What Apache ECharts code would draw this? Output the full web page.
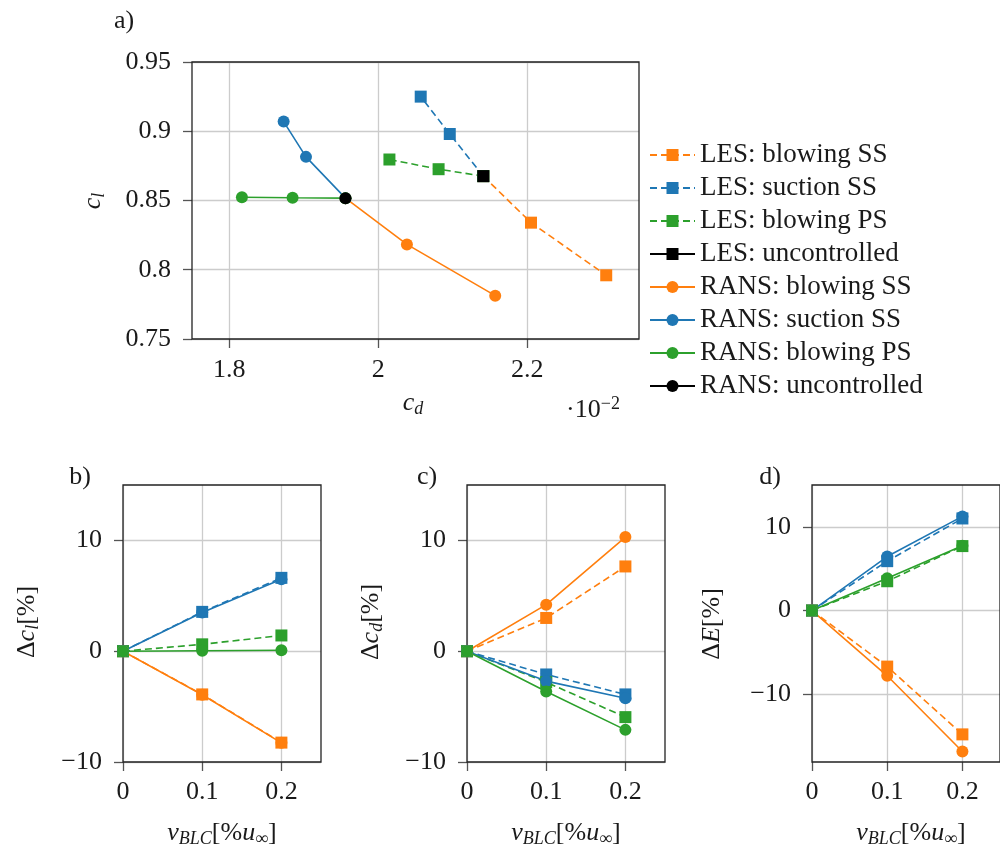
<!DOCTYPE html>
<html>
<head>
<meta charset="utf-8">
<script src="https://cdn.jsdelivr.net/npm/echarts@6/dist/echarts.min.js"></script>
<style>
  html, body { margin: 0; padding: 0; background: #ffffff; }
  #chart { width: 1000px; height: 845px; }
</style>
</head>
<body>
<div id="chart"></div>
<script>
// ---- Polar data: c_d (x 10^-2) and c_l, points ordered uncontrolled, v=0.1, v=0.2 ----
const lesBlowSS_cd  = [2.141, 2.205, 2.306];
const lesBlowSS_cl  = [0.8676, 0.834, 0.796];
const lesSuctSS_cd  = [2.141, 2.096, 2.057];
const lesSuctSS_cl  = [0.8676, 0.898, 0.925];
const lesBlowPS_cd  = [2.141, 2.081, 2.015];
const lesBlowPS_cl  = [0.8676, 0.8726, 0.8796];
const lesUnc_cd     = [2.141];
const lesUnc_cl     = [0.8676];
const ransBlowSS_cd = [1.956, 2.0385, 2.157];
const ransBlowSS_cl = [0.8517, 0.8183, 0.7813];
const ransSuctSS_cd = [1.956, 1.903, 1.873];
const ransSuctSS_cl = [0.8517, 0.8815, 0.907];
const ransBlowPS_cd = [1.956, 1.885, 1.817];
const ransBlowPS_cl = [0.8517, 0.852, 0.8524];
const ransUnc_cd    = [1.956];
const ransUnc_cl    = [0.8517];

// ---- Relative changes [%] versus control velocity v_BLC [% u_inf] ----
const vBLC = [0, 0.1, 0.2];
const dCl_lesBlowSS  = [0, -3.9, -8.25];
const dCl_lesSuctSS  = [0, 3.55, 6.62];
const dCl_lesBlowPS  = [0, 0.62, 1.42];
const dCl_ransBlowSS = [0, -3.93, -8.27];
const dCl_ransSuctSS = [0, 3.5, 6.5];
const dCl_ransBlowPS = [0, 0.04, 0.08];

const dCd_lesBlowSS  = [0, 3.0, 7.65];
const dCd_lesSuctSS  = [0, -2.1, -3.9];
const dCd_lesBlowPS  = [0, -2.8, -5.95];
const dCd_ransBlowSS = [0, 4.2, 10.3];
const dCd_ransSuctSS = [0, -2.7, -4.25];
const dCd_ransBlowPS = [0, -3.63, -7.1];

const dE_lesBlowSS  = [0, -6.7, -14.8];
const dE_lesSuctSS  = [0, 5.9, 11.0];
const dE_lesBlowPS  = [0, 3.5, 7.7];
const dE_ransBlowSS = [0, -7.8, -16.85];
const dE_ransSuctSS = [0, 6.45, 11.25];
const dE_ransBlowPS = [0, 3.85, 7.75];

// ---- Tick values ----
const ticksCd  = [1.8, 2, 2.2];
const ticksCl  = [0.75, 0.8, 0.85, 0.9, 0.95];
const ticksV   = [0, 0.1, 0.2];
const ticksPct = [-10, 0, 10];

const legendNames = [
  'LES: blowing SS', 'LES: suction SS', 'LES: blowing PS', 'LES: uncontrolled',
  'RANS: blowing SS', 'RANS: suction SS', 'RANS: blowing PS', 'RANS: uncontrolled'
];

const FONT = "'Liberation Serif', serif";
const INK = '#1a1a1a';
const ORANGE = '#ff7f0e', BLUE = '#1f77b4', GREEN = '#2ca02c', BLACK = '#000000';
const DASH = [7, 4];

function fmt(v) {
  const s = String(+(+v).toFixed(4));
  return s.replace('-', '\u2212');
}

function axis(gridIndex, min, max, splitNumber, ticks, margin) {
  return {
    gridIndex, type: 'value', min, max, splitNumber, z: 0,
    axisLine: { show: false, onZero: false },
    axisTick: { show: true, length: 9, customValues: ticks,
                lineStyle: { color: '#555555', width: 1.3 } },
    axisLabel: { customValues: ticks, formatter: fmt, margin,
                 fontFamily: FONT, fontSize: 26, color: INK },
    splitLine: { show: true, lineStyle: { color: '#cccccc', width: 1.3 } }
  };
}

function line(name, xs, ys, color, symbol, dashed, idx) {
  return {
    name, type: 'line', xAxisIndex: idx, yAxisIndex: idx,
    data: xs.map((x, i) => [x, ys[i]]),
    symbol, symbolSize: 12, showSymbol: true, clip: false, z: 2,
    lineStyle: { color, width: 1.6, type: dashed ? DASH : 'solid' },
    itemStyle: { color },
    emphasis: { disabled: true },
    animation: false
  };
}

const series = [
  line('LES: blowing SS', lesBlowSS_cd, lesBlowSS_cl, ORANGE, 'rect', true, 0),
  line('LES: suction SS', lesSuctSS_cd, lesSuctSS_cl, BLUE, 'rect', true, 0),
  line('LES: blowing PS', lesBlowPS_cd, lesBlowPS_cl, GREEN, 'rect', true, 0),
  line('LES: uncontrolled', lesUnc_cd, lesUnc_cl, BLACK, 'rect', false, 0),
  line('RANS: blowing SS', ransBlowSS_cd, ransBlowSS_cl, ORANGE, 'circle', false, 0),
  line('RANS: suction SS', ransSuctSS_cd, ransSuctSS_cl, BLUE, 'circle', false, 0),
  line('RANS: blowing PS', ransBlowPS_cd, ransBlowPS_cl, GREEN, 'circle', false, 0),
  line('RANS: uncontrolled', ransUnc_cd, ransUnc_cl, BLACK, 'circle', false, 0)
];

const deltaSets = [
  [dCl_lesBlowSS, dCl_lesSuctSS, dCl_lesBlowPS, dCl_ransBlowSS, dCl_ransSuctSS, dCl_ransBlowPS],
  [dCd_lesBlowSS, dCd_lesSuctSS, dCd_lesBlowPS, dCd_ransBlowSS, dCd_ransSuctSS, dCd_ransBlowPS],
  [dE_lesBlowSS, dE_lesSuctSS, dE_lesBlowPS, dE_ransBlowSS, dE_ransSuctSS, dE_ransBlowPS]
];
const deltaNames = ['LES: blowing SS', 'LES: suction SS', 'LES: blowing PS',
                    'RANS: blowing SS', 'RANS: suction SS', 'RANS: blowing PS'];
const deltaColors = [ORANGE, BLUE, GREEN, ORANGE, BLUE, GREEN];
deltaSets.forEach((set, k) => {
  set.forEach((ys, j) => {
    series.push(line(deltaNames[j], vBLC, ys, deltaColors[j],
                     j < 3 ? 'rect' : 'circle', j < 3, k + 1));
  });
});

// frame drawn above the grid lines, below the data
const gridBase = { show: true, z: 1, borderColor: '#222222', borderWidth: 1.3,
                   backgroundColor: 'transparent', containLabel: false };

// rich-text styles for axis titles
const rich = {
  n:  { fontFamily: FONT, fontSize: 26, lineHeight: 30, fill: INK },
  i:  { fontFamily: FONT, fontSize: 26, lineHeight: 30, fontStyle: 'italic', fill: INK },
  s:  { fontFamily: FONT, fontSize: 18, lineHeight: 14, fontStyle: 'italic', verticalAlign: 'bottom', fill: INK },
  su: { fontFamily: FONT, fontSize: 18, lineHeight: 14, verticalAlign: 'bottom', fill: INK },
  p:  { fontFamily: FONT, fontSize: 18, lineHeight: 10, verticalAlign: 'top', fill: INK }
};

function txt(x, y, text, rotation) {
  return {
    type: 'text', x, y, rotation: rotation || 0, silent: true,
    style: { text, rich, align: 'center', verticalAlign: 'middle',
             fontFamily: FONT, fontSize: 26, fill: INK }
  };
}

const vLabel = '{i|v}{s|BLC}{n|[%}{i|u}{su|\u221E}{n|]}';

const option = {
  backgroundColor: '#ffffff',
  animation: false,
  grid: [
    Object.assign({ left: 192, top: 62, width: 447, height: 277 }, gridBase),
    Object.assign({ left: 123, top: 485, width: 198, height: 277 }, gridBase),
    Object.assign({ left: 467, top: 485, width: 198, height: 277 }, gridBase),
    Object.assign({ left: 812, top: 485, width: 198, height: 277 }, gridBase)
  ],
  xAxis: [
    axis(0, 1.75, 2.35, 3, ticksCd, 18),
    axis(1, 0, 0.25, 2, ticksV, 17),
    axis(2, 0, 0.25, 2, ticksV, 17),
    axis(3, 0, 0.25, 2, ticksV, 17)
  ],
  yAxis: [
    axis(0, 0.75, 0.95, 4, ticksCl, 21),
    axis(1, -10, 15, 2, ticksPct, 21),
    axis(2, -10, 15, 2, ticksPct, 21),
    axis(3, -18.1, 15, 3, ticksPct, 21)
  ],
  legend: {
    data: legendNames,
    orient: 'vertical', left: 649, top: 140, padding: 0,
    itemWidth: 45, itemHeight: 15, itemGap: 3,
    textStyle: { fontFamily: FONT, fontSize: 27, lineHeight: 30, color: INK },
    selectedMode: false
  },
  graphic: [
    txt(124, 21, '{n|a)}'),
    txt(80, 477, '{n|b)}'),
    txt(427, 477, '{n|c)}'),
    txt(770, 477, '{n|d)}'),
    txt(413, 403, '{i|c}{s|d}'),
    txt(593, 410, '{n|\u00B710}{p|\u22122}'),
    txt(93, 201, '{i|c}{s|l}', Math.PI / 2),
    txt(27, 622, '{n|\u0394}{i|c}{s|l}{n|[%]}', Math.PI / 2),
    txt(371, 622, '{n|\u0394}{i|c}{s|d}{n|[%]}', Math.PI / 2),
    txt(712, 624, '{n|\u0394}{i|E}{n|[%]}', Math.PI / 2),
    txt(222, 833, vLabel),
    txt(566, 833, vLabel),
    txt(911, 833, vLabel)
  ],
  series
};

const chart = echarts.init(document.getElementById('chart'), null, { renderer: 'canvas' });
chart.setOption(option);
</script>
</body>
</html>
